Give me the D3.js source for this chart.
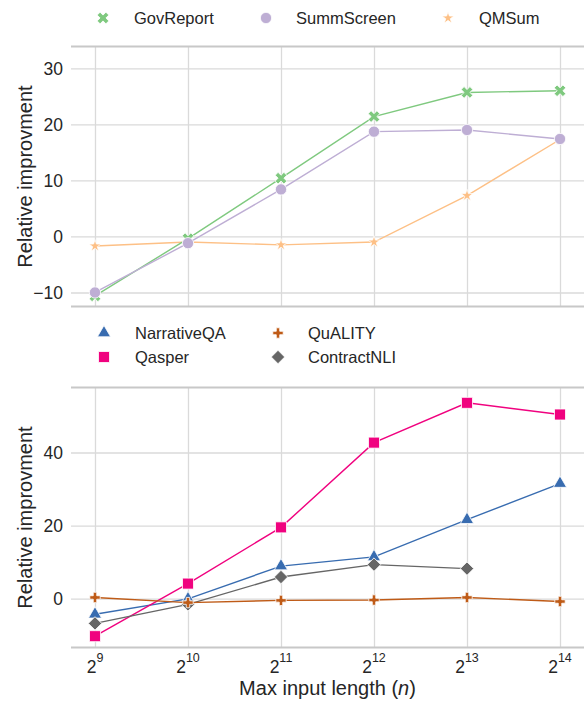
<!DOCTYPE html>
<html><head><meta charset="utf-8">
<script src="https://cdn.jsdelivr.net/npm/d3@7"></script>
<style>body{margin:0;background:#fff}svg{display:block}text{font-family:"Liberation Sans",Arial,sans-serif;fill:#262626}</style>
</head><body>
<svg id="c" width="584" height="702"></svg>
<script>
const exponents = [9, 10, 11, 12, 13, 14];
const topTicks = [-10, 0, 10, 20, 30];
const bottomTicks = [0, 20, 40];

const govReport   = [-10.6, -0.4, 10.4, 21.4, 25.7, 26.0];
const summScreen  = [-10.0, -1.2, 8.4, 18.7, 19.0, 17.4];
const qmSum       = [-1.7, -1.0, -1.5, -1.0, 7.3, 17.3];

const narrativeQA = [-4.3, -0.1, 8.9, 11.4, 21.6, 31.5];
const qasper      = [-10.3, 4.1, 19.5, 42.7, 53.6, 50.4];
const quality     = [0.3, -1.1, -0.5, -0.4, 0.3, -0.8];
const contractNLI = [-6.8, -1.6, 5.9, 9.3, 8.2, null];

const topSeries = [
  {name:"GovReport", values:govReport, color:"#7fc97f", marker:"x", z:1},
  {name:"SummScreen", values:summScreen, color:"#beaed4", marker:"circle", z:2},
  {name:"QMSum", values:qmSum, color:"#fdc086", marker:"star", z:0}
];
const bottomSeries = [
  {name:"NarrativeQA", values:narrativeQA, color:"#386cb0", marker:"triangle", z:0},
  {name:"Qasper", values:qasper, color:"#f0027f", marker:"square", z:1},
  {name:"QuALITY", values:quality, color:"#bf5b17", marker:"plus", z:3},
  {name:"ContractNLI", values:contractNLI, color:"#666666", marker:"diamond", z:2}
];

const svg = d3.select("#c");
const L = 71, R = 584;
const x = d3.scaleLinear().domain([8.742, 14.258]).range([L, R]);

function markerPath(m){
  switch(m){
    case "x": return {d:d3.symbol(d3.symbolCross, 85)(), rot:45};
    case "circle": return {d:d3.symbol(d3.symbolCircle, 100)(), rot:0};
    case "star": return {d:d3.symbol(d3.symbolStar, 45)(), rot:0};
    case "triangle": return {d:d3.symbol(d3.symbolTriangle, 75)(), rot:0};
    case "square": return {d:d3.symbol(d3.symbolSquare, 121)(), rot:0};
    case "plus": return {d:d3.symbol(d3.symbolCross, 60)(), rot:0};
    case "diamond": return {d:d3.symbol(d3.symbolSquare, 90)(), rot:45};
  }
}

function panel(top, bottom, domain, ticks, series, ylabel){
  const y = d3.scaleLinear().domain(domain).range([bottom, top]);
  const g = svg.append("g");
  g.append("g").attr("transform",`translate(0,${bottom})`)
    .call(d3.axisBottom(x).tickValues(exponents).tickSize(-(bottom-top)).tickFormat(""))
    .call(a=>{a.select(".domain").remove();a.selectAll("line").attr("stroke","#dadada").attr("stroke-width",1.3);});
  g.append("g").attr("transform",`translate(${L},0)`)
    .call(d3.axisLeft(y).tickValues(ticks).tickSize(-(R-L)).tickPadding(8).tickFormat(d=>d<0?"\u2212"+Math.abs(d):d))
    .call(a=>{a.select(".domain").remove();a.selectAll("line").attr("stroke","#dadada").attr("stroke-width",1.3);
      a.selectAll("text").attr("font-size",17.5).attr("fill","#262626").attr("font-family","Liberation Sans, Arial, sans-serif").attr("dy","0.35em");});
  [top, bottom].forEach(yy=>g.append("line").attr("x1",L).attr("x2",R).attr("y1",yy).attr("y2",yy).attr("stroke","#c8c8c8").attr("stroke-width",2));
  g.append("text").attr("transform",`translate(32,${(top+bottom)/2}) rotate(-90)`).attr("text-anchor","middle").attr("font-size",20).text(ylabel);
  series.slice().sort((a,b)=>a.z-b.z).forEach(s=>{
    const pts = exponents.map((e,i)=>({e, v:s.values[i]})).filter(p=>p.v!==null);
    const line = d3.line().x(p=>x(p.e)).y(p=>y(p.v));
    g.append("path").attr("d",line(pts)).attr("fill","none").attr("stroke",s.color).attr("stroke-width",1.4);
    const mp = markerPath(s.marker);
    g.selectAll(null).data(pts).enter().append("path").attr("d",mp.d)
      .attr("transform",p=>`translate(${x(p.e)},${y(p.v)}) rotate(${mp.rot})`)
      .attr("fill",s.color).attr("stroke","#fff").attr("stroke-width",0.8);
  });
  return y;
}

panel(46.5, 306.5, [-12.5, 33.9], topTicks, topSeries, "Relative improvment");
panel(387.5, 647.5, [-13.4, 57.8], bottomTicks, bottomSeries, "Relative improvment");

const xl = svg.append("g");
exponents.forEach(e=>{
  const t = xl.append("text").attr("x",x(e)).attr("y",673).attr("text-anchor","middle").attr("font-size",17.5);
  t.append("tspan").text("2");
  t.append("tspan").attr("dy",-11).attr("font-size",12.5).text(e);
});
svg.append("text").attr("x",(L+R)/2).attr("y",695).attr("text-anchor","middle").attr("font-size",20)
  .html('Max input length (<tspan font-style="italic">n</tspan>)');

function legendItem(s, mx, my, tx){
  const mp = markerPath(s.marker);
  svg.append("path").attr("d",mp.d).attr("transform",`translate(${mx},${my}) rotate(${mp.rot})`).attr("fill",s.color).attr("stroke","#fff").attr("stroke-width",0.8);
  svg.append("text").attr("x",tx).attr("y",my+5.5).attr("font-size",16.5).text(s.name);
}
const topLegX = [[103,134],[266,296],[448,479]];
topSeries.forEach((s,i)=>legendItem(s, topLegX[i][0], 18, topLegX[i][1]));
const botLeg = [[104,333,135],[104,357,135],[278,333,308],[278,357,308]];
bottomSeries.forEach((s,i)=>legendItem(s, botLeg[i][0], botLeg[i][1], botLeg[i][2]));
</script>
</body></html>
